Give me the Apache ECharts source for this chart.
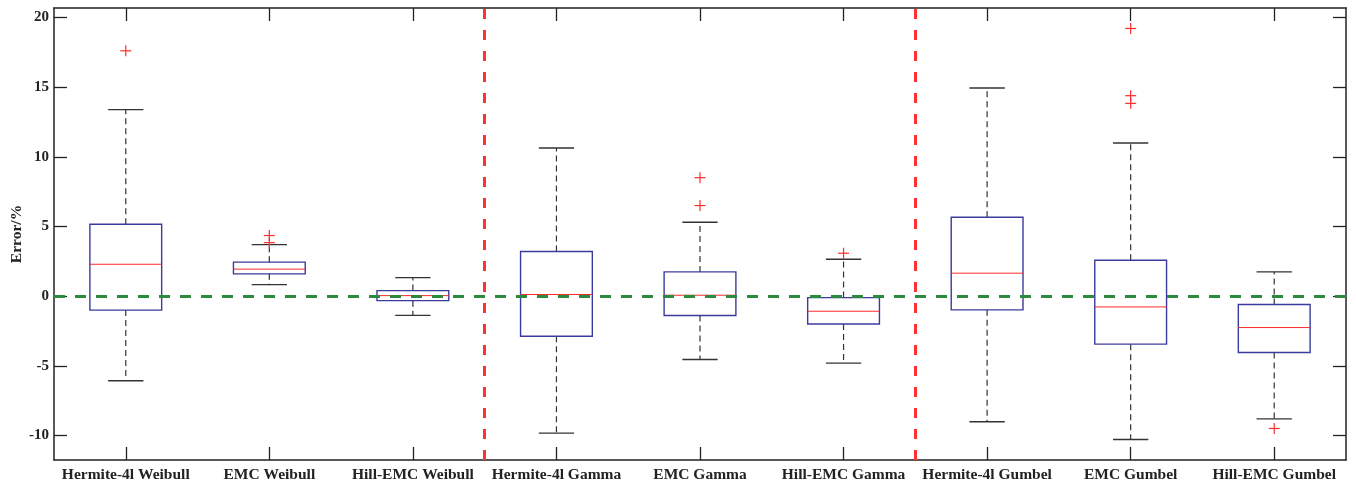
<!DOCTYPE html>
<html>
<head>
<meta charset="utf-8">
<script src="https://cdn.jsdelivr.net/npm/echarts@6/dist/echarts.min.js"></script>
<style>
  html, body { margin: 0; padding: 0; background: #ffffff; }
  #chart { width: 1356px; height: 487px; }
</style>
</head>
<body>
<div id="chart"></div>
<script>
// Error distributions of each moment-based method, grouped by target distribution
const categories = [
  'Hermite-4l Weibull', 'EMC Weibull', 'Hill-EMC Weibull',
  'Hermite-4l Gamma', 'EMC Gamma', 'Hill-EMC Gamma',
  'Hermite-4l Gumbel', 'EMC Gumbel', 'Hill-EMC Gumbel'
];
const whiskerLow  = [-6.07, 0.83, -1.38, -9.82, -4.54, -4.80, -9.01, -10.28, -8.80];
const quartile1   = [-1.00, 1.60, -0.32, -2.87, -1.39, -2.00, -0.98, -3.44, -4.04];
const medians     = [ 2.29, 1.94,  0.04,  0.12,  0.07, -1.08,  1.65, -0.77, -2.25];
const quartile3   = [ 5.16, 2.44,  0.40,  3.20,  1.74, -0.10,  5.66,  2.58, -0.60];
const whiskerHigh = [13.38, 3.70,  1.33, 10.63,  5.30,  2.65, 14.93, 10.99,  1.74];
// outliers as [category index, error %]
const outliers = [
  [0, 17.6], [1, 4.35], [1, 3.84], [4, 8.5], [4, 6.5], [5, 3.08],
  [7, 19.2], [7, 14.38], [7, 13.83], [8, -9.49]
];
const yTicks = [-10, -5, 0, 5, 10, 15, 20];
const yRange = [-11.75, 20.67];
const groupBreaks = [3, 6];   // separators between Weibull / Gamma / Gumbel groups
const referenceLevel = 0;

const serif = "'Liberation Serif', 'Times New Roman', serif";
const ink = '#222222';

const boxData = categories.map((c, i) => [
  i, whiskerLow[i], quartile1[i], medians[i], quartile3[i], whiskerHigh[i]
]);

function renderBox(params, api) {
  const i = api.value(0);
  const lo = api.coord([i, api.value(1)]);
  const q1 = api.coord([i, api.value(2)]);
  const md = api.coord([i, api.value(3)]);
  const q3 = api.coord([i, api.value(4)]);
  const hi = api.coord([i, api.value(5)]);
  const band = api.size([1, 0])[0];
  const half = band * 0.25;
  const cap = band * 0.123;
  const x = lo[0];
  const whisker = { stroke: '#333333', lineWidth: 1.2, lineDash: [6, 4] };
  const capStyle = { stroke: '#333333', lineWidth: 1.4 };
  return {
    type: 'group',
    children: [
      { type: 'line', shape: { x1: x, y1: q3[1], x2: x, y2: hi[1] }, style: whisker },
      { type: 'line', shape: { x1: x, y1: q1[1], x2: x, y2: lo[1] }, style: whisker },
      { type: 'line', shape: { x1: x - cap, y1: hi[1], x2: x + cap, y2: hi[1] }, style: capStyle },
      { type: 'line', shape: { x1: x - cap, y1: lo[1], x2: x + cap, y2: lo[1] }, style: capStyle },
      { type: 'rect', shape: { x: x - half, y: q3[1], width: 2 * half, height: q1[1] - q3[1] },
        style: { fill: 'rgba(0,0,0,0)', stroke: '#3b3b9e', lineWidth: 1.4 } },
      { type: 'line', shape: { x1: x - half, y1: md[1], x2: x + half, y2: md[1] },
        style: { stroke: '#ff2b2b', lineWidth: 1 } }
    ]
  };
}

function renderOutlier(params, api) {
  const p = api.coord([api.value(0), api.value(1)]);
  const r = 5.5;
  const st = { stroke: '#ff2b2b', lineWidth: 1.2 };
  return {
    type: 'group',
    children: [
      { type: 'line', shape: { x1: p[0] - r, y1: p[1], x2: p[0] + r, y2: p[1] }, style: st },
      { type: 'line', shape: { x1: p[0], y1: p[1] - r, x2: p[0], y2: p[1] + r }, style: st }
    ]
  };
}

const chart = echarts.init(document.getElementById('chart'), null, { renderer: 'canvas' });

const categoryAxisBase = {
  type: 'category',
  data: categories,
  boundaryGap: true,
  axisLine: { show: true, onZero: false, lineStyle: { color: ink, width: 1.5 } },
  axisTick: { show: true, inside: true, length: 13, alignWithLabel: true, lineStyle: { color: ink, width: 1.3 } },
  splitLine: { show: false }
};

const valueAxisBase = {
  type: 'value',
  min: yRange[0],
  max: yRange[1],
  axisLine: { show: true, onZero: false, lineStyle: { color: ink, width: 1.5 } },
  axisTick: { show: true, inside: true, length: 13, customValues: yTicks, lineStyle: { color: ink, width: 1.3 } },
  splitLine: { show: false }
};

chart.setOption({
  animation: false,
  backgroundColor: '#ffffff',
  grid: { left: 54, right: 10, top: 8, bottom: 27, containLabel: false, outerBoundsMode: 'none' },
  xAxis: [
    Object.assign({}, categoryAxisBase, {
      position: 'bottom',
      axisLabel: { show: true, interval: 0, hideOverlap: false, margin: 7, color: ink, fontFamily: serif, fontWeight: 'bold', fontSize: 15.5 }
    }),
    Object.assign({}, categoryAxisBase, {
      position: 'top',
      axisLabel: { show: false }
    }),
    { type: 'value', min: 0, max: categories.length, show: false }
  ],
  yAxis: [
    Object.assign({}, valueAxisBase, {
      position: 'left',
      name: 'Error/%',
      nameLocation: 'middle',
      nameGap: 29,
      nameMoveOverlap: false,
      nameTextStyle: { color: ink, fontFamily: serif, fontWeight: 'bold', fontSize: 15.5 },
      axisLabel: { show: true, customValues: yTicks, margin: 5, color: ink, fontFamily: serif, fontWeight: 'bold', fontSize: 15 }
    }),
    Object.assign({}, valueAxisBase, {
      position: 'right',
      axisLabel: { show: false }
    })
  ],
  series: [
    {
      type: 'custom',
      name: 'boxes',
      xAxisIndex: 0,
      yAxisIndex: 0,
      renderItem: renderBox,
      encode: { x: 0, y: [1, 2, 3, 4, 5] },
      data: boxData,
      z: 2,
      silent: true
    },
    {
      type: 'custom',
      name: 'outliers',
      xAxisIndex: 0,
      yAxisIndex: 0,
      renderItem: renderOutlier,
      encode: { x: 0, y: 1 },
      data: outliers,
      z: 3,
      silent: true
    },
    {
      type: 'line',
      name: 'reference',
      xAxisIndex: 0,
      yAxisIndex: 0,
      data: [],
      z: 4,
      markLine: {
        silent: true,
        symbol: 'none',
        label: { show: false },
        lineStyle: { color: '#2b8a3e', width: 3, type: [11, 10] },
        data: [{ yAxis: referenceLevel }]
      }
    },
    {
      type: 'line',
      name: 'groups',
      xAxisIndex: 2,
      yAxisIndex: 0,
      data: [],
      z: 5,
      markLine: {
        silent: true,
        symbol: 'none',
        label: { show: false },
        lineStyle: { color: '#ff3030', width: 3, type: [10, 11] },
        data: groupBreaks.map(v => ({ xAxis: v }))
      }
    }
  ]
});
</script>
</body>
</html>
